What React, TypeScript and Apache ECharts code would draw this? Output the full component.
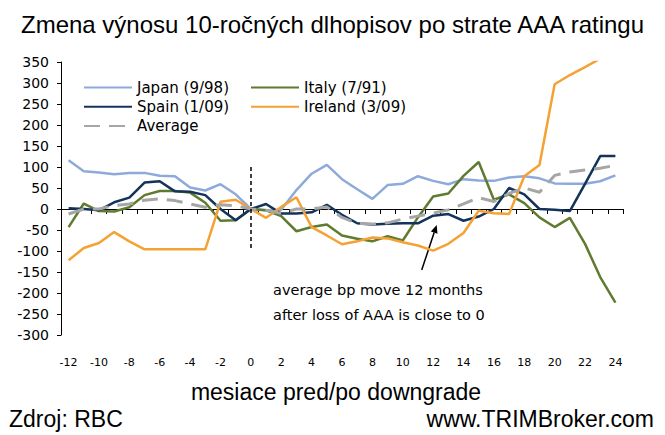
import React, { useEffect, useRef } from "react";
import * as echarts from "echarts";

const months: string[] = [
  "-12", "-11", "-10", "-9", "-8", "-7", "-6", "-5", "-4", "-3", "-2", "-1", "0",
  "1", "2", "3", "4", "5", "6", "7", "8", "9", "10", "11", "12", "13", "14", "15",
  "16", "17", "18", "19", "20", "21", "22", "23", "24",
];

const japan: number[] = [116, 90, 87, 83, 86, 86, 79, 78, 51, 44, 59, 35, 0, -3, -2, 45, 84, 105, 71, 47, 24, 57, 60, 78, 67, 59, 71, 68, 67, 75, 78, 73, 61, 60, 60, 66, 80];
const italy: number[] = [-43, 13, -5, -6, 4, 33, 43, 43, 39, 15, -28, -27, 0, -3, -17, -53, -43, -37, -63, -71, -77, -65, -75, -20, 30, 37, 79, 112, 22, 35, 14, -20, -43, -21, -83, -162, -223];
const spain: number[] = [2, 0, -3, 16, 27, 63, 66, 42, 41, 33, 0, -27, 0, 12, -11, -11, -8, 10, -14, -34, -37, -35, -34, -34, -16, -12, -28, -18, 0, 50, 35, 0, -2, -5, 60, 126, 126];
const ireland: number[] = [-122, -93, -81, -55, -77, -96, -96, -96, -96, -96, 17, 22, 0, -21, 5, 28, -43, -63, -84, -77, -68, -70, -79, -87, -99, -83, -57, -4, -10, -12, 78, 105, 297, 319, 338, 358, 427];
const average: number[] = [-12, 0, 0, 8, 12, 21, 24, 20, 12, 4, 10, 8, 0, -3, -10, 0, 0, 5, -20, -34, -36, -33, -24, -17, -10, -2, 12, 27, 18, 37, 50, 40, 80, 88, 93, 97, 104];

const seriesNames = ["Japan (9/98)", "Italy (7/91)", "Spain (1/09)", "Ireland (3/09)", "Average"];

const TITLE = "Zmena výnosu 10-ročných dlhopisov po strate AAA ratingu";
const X_TITLE = "mesiace pred/po downgrade";
const SOURCE = "Zdroj: RBC";
const SITE = "www.TRIMBroker.com";
const NOTE1 = "average bp move 12 months";
const NOTE2 = "after loss of AAA is close to 0";

export default function App() {
  const ref = useRef<HTMLDivElement>(null);
  useEffect(() => {
    if (!ref.current) return;
    const chart = echarts.init(ref.current, undefined, { renderer: "svg" });
    const lineW = 2.5;
    const mk = (name: string, data: number[], color: string, extra: any = {}) => ({
      name,
      type: "line",
      data,
      symbol: "none",
      showSymbol: false,
      clip: true,
      lineStyle: { color, width: lineW, ...(extra.lineStyle || {}) },
      itemStyle: { color },
      emphasis: { disabled: true },
      ...(extra.rest || {}),
    });
    const tip = [436.7, 225];
    const dir = [0.316, -0.949];
    const base = [tip[0] - 8 * dir[0], tip[1] - 8 * dir[1]];
    const perp = [-dir[1], dir[0]];
    const legendCommon = {
      top: 80,
      orient: "vertical",
      padding: 0,
      itemWidth: 48,
      itemHeight: 14,
      itemGap: 4.3,
      textStyle: { fontFamily: "DejaVu Sans", fontSize: 15, color: "#000" },
      itemStyle: { opacity: 0, borderWidth: 0 },
      selectedMode: false,
    };
    const option: any = {
      animation: false,
      backgroundColor: "#fff",
      title: {
        text: TITLE,
        left: "center",
        top: 7,
        textStyle: { fontFamily: "Liberation Sans", fontSize: 24, fontWeight: "normal", color: "#000" },
      },
      grid: { left: 61, right: 42, top: 62, bottom: 100, containLabel: false },
      legend: [
        { ...legendCommon, left: 83, data: [seriesNames[0], seriesNames[2], seriesNames[4]] },
        { ...legendCommon, left: 250, data: [seriesNames[1], seriesNames[3]] },
      ],
      xAxis: [
        {
          type: "category",
          data: months,
          boundaryGap: true,
          axisLine: { onZero: true, lineStyle: { color: "#000", width: 1 } },
          axisTick: { show: true, length: 5, interval: 0, lineStyle: { color: "#000" } },
          axisLabel: { show: false },
          splitLine: { show: false },
        },
        {
          type: "category",
          data: months,
          position: "bottom",
          boundaryGap: true,
          axisLine: { show: false },
          axisTick: { show: false },
          axisLabel: {
            interval: 1,
            margin: 22,
            fontFamily: "DejaVu Sans",
            fontSize: 11,
            color: "#000",
          },
          splitLine: { show: false },
        },
      ],
      yAxis: {
        type: "value",
        min: -300,
        max: 350,
        interval: 50,
        axisLine: { show: true, lineStyle: { color: "#000", width: 1 } },
        axisTick: { show: true, length: 4, lineStyle: { color: "#000" } },
        axisLabel: { margin: 12, fontFamily: "DejaVu Sans", fontSize: 14, color: "#000" },
        splitLine: { show: false },
      },
      series: [
        mk(seriesNames[0], japan, "#8eaadb", {
          rest: {
            markLine: {
              silent: true,
              symbol: "none",
              label: { show: false },
              lineStyle: { color: "#000", type: [4, 3], width: 1.5 },
              data: [[{ coord: ["0", 100] }, { coord: ["0", -100] }]],
            },
          },
        }),
        mk(seriesNames[1], italy, "#5f7b2f"),
        mk(seriesNames[2], spain, "#14335a"),
        mk(seriesNames[3], ireland, "#f5a133"),
        mk(seriesNames[4], average, "#a6a6a6", { lineStyle: { type: [16, 9], width: 3 } }),
      ],
      graphic: [
        {
          type: "text",
          x: 336,
          y: 392,
          style: {
            text: X_TITLE,
            fontFamily: "Liberation Sans",
            fontSize: 23,
            fill: "#000",
            align: "center",
            verticalAlign: "middle",
          },
        },
        {
          type: "text",
          x: 9,
          y: 419,
          style: {
            text: SOURCE,
            fontFamily: "Liberation Sans",
            fontSize: 23,
            fill: "#000",
            align: "left",
            verticalAlign: "middle",
          },
        },
        {
          type: "text",
          x: 654,
          y: 419,
          style: {
            text: SITE,
            fontFamily: "Liberation Sans",
            fontSize: 23,
            fill: "#000",
            align: "right",
            verticalAlign: "middle",
          },
        },
        {
          type: "text",
          x: 273,
          y: 290,
          style: {
            text: NOTE1,
            fontFamily: "DejaVu Sans",
            fontSize: 14.5,
            fill: "#000",
            align: "left",
            verticalAlign: "middle",
          },
        },
        {
          type: "text",
          x: 273,
          y: 315,
          style: {
            text: NOTE2,
            fontFamily: "DejaVu Sans",
            fontSize: 14.5,
            fill: "#000",
            align: "left",
            verticalAlign: "middle",
          },
        },
        {
          type: "line",
          shape: { x1: 421.7, y1: 270, x2: base[0], y2: base[1] },
          style: { stroke: "#000", lineWidth: 1.5 },
        },
        {
          type: "polygon",
          shape: {
            points: [
              tip,
              [base[0] + 3.5 * perp[0], base[1] + 3.5 * perp[1]],
              [base[0] - 3.5 * perp[0], base[1] - 3.5 * perp[1]],
            ],
          },
          style: { fill: "#000" },
        },
      ],
    };
    chart.setOption(option);
    return () => chart.dispose();
  }, []);
  return (
    <div
      ref={ref}
      style={{ position: "fixed", left: 0, top: 0, width: 665, height: 435, background: "#fff" }}
    />
  );
}
